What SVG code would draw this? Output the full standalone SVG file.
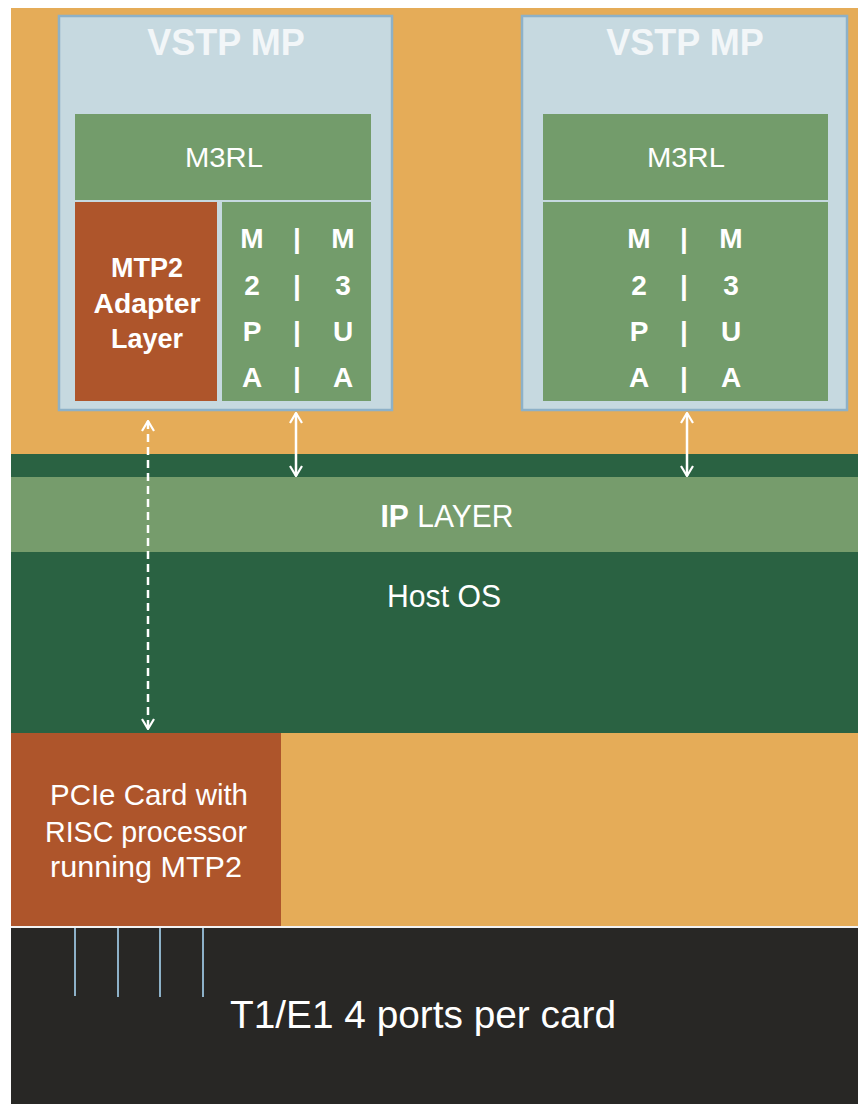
<svg xmlns="http://www.w3.org/2000/svg" width="858" height="1104" viewBox="0 0 858 1104">
<style>
text{font-family:"Liberation Sans",Arial,sans-serif;fill:#FFFFFF;text-anchor:middle}
.title{font-size:36px;font-weight:bold;fill:#F2F6F8}
.m3rl{font-size:28px}
.lbl{font-size:27px;font-weight:bold}
.ltr{font-size:28px;font-weight:bold}
.band{font-size:32px}
.pcie{font-size:29px}
.mp{fill:#C6D9E0;stroke:#8DB1C8;stroke-width:2.5}
.green{fill:#739C6B}
.rust{fill:#AE552B}
.conn{stroke:#FFFFFF;stroke-width:2.5;fill:none}
.port{stroke:#8DB1C8;stroke-width:2}
</style>
<defs>
<marker id="chev" viewBox="0 0 12 14" refX="11" refY="7" markerWidth="12" markerHeight="14" markerUnits="userSpaceOnUse" orient="auto-start-reverse">
<path d="M1,1 L11,7 L1,13" fill="none" stroke="#FFFFFF" stroke-width="2.2"/>
</marker>
</defs>
<rect x="0" y="0" width="858" height="1104" fill="#FFFFFF"/>
<rect x="11" y="8" width="847" height="1096" fill="#E5AC58"/>
<g id="ip-band">
<rect x="11" y="454" width="847" height="23" fill="#2A6242"/>
<rect x="11" y="477" width="847" height="75" fill="#769C6C"/>
<text class="band" x="447" y="527" textLength="133" lengthAdjust="spacingAndGlyphs"><tspan font-weight="bold">IP</tspan> LAYER</text>
</g>
<g id="host-os">
<rect x="11" y="552" width="847" height="181" fill="#2A6242"/>
<text class="band" x="444" y="607" textLength="114" lengthAdjust="spacingAndGlyphs">Host OS</text>
</g>
<g id="vstp-left">
<rect class="mp" x="59" y="16" width="333" height="394"/>
<text class="title" x="226" y="55">VSTP MP</text>
<g id="m3rl-left">
<rect class="green" x="75" y="114" width="296" height="86"/>
<text class="m3rl" x="224" y="167" textLength="78" lengthAdjust="spacingAndGlyphs">M3RL</text>
</g>
<g id="mtp2-adapter">
<rect class="rust" x="75" y="202" width="142" height="199"/>
<text class="lbl" x="147" y="277">MTP2</text>
<text class="lbl" x="147" y="313" textLength="107" lengthAdjust="spacingAndGlyphs">Adapter</text>
<text class="lbl" x="147" y="348">Layer</text>
</g>
<g id="m2pa-m3ua-left">
<rect class="green" x="222" y="202" width="149" height="199"/>
<text class="ltr" x="252" y="248">M</text><text class="ltr" x="297" y="248">|</text><text class="ltr" x="343" y="248">M</text>
<text class="ltr" x="252" y="295">2</text><text class="ltr" x="297" y="295">|</text><text class="ltr" x="343" y="295">3</text>
<text class="ltr" x="252" y="341">P</text><text class="ltr" x="297" y="341">|</text><text class="ltr" x="343" y="341">U</text>
<text class="ltr" x="252" y="387">A</text><text class="ltr" x="297" y="387">|</text><text class="ltr" x="343" y="387">A</text>
</g>
</g>
<g id="vstp-right">
<rect class="mp" x="522" y="16" width="325" height="394"/>
<text class="title" x="685" y="55">VSTP MP</text>
<g id="m3rl-right">
<rect class="green" x="543" y="114" width="285" height="86"/>
<text class="m3rl" x="686" y="167" textLength="78" lengthAdjust="spacingAndGlyphs">M3RL</text>
</g>
<g id="m2pa-m3ua-right">
<rect class="green" x="543" y="202" width="285" height="199"/>
<text class="ltr" x="639" y="248">M</text><text class="ltr" x="684" y="248">|</text><text class="ltr" x="731" y="248">M</text>
<text class="ltr" x="639" y="295">2</text><text class="ltr" x="684" y="295">|</text><text class="ltr" x="731" y="295">3</text>
<text class="ltr" x="639" y="341">P</text><text class="ltr" x="684" y="341">|</text><text class="ltr" x="731" y="341">U</text>
<text class="ltr" x="639" y="387">A</text><text class="ltr" x="684" y="387">|</text><text class="ltr" x="731" y="387">A</text>
</g>
</g>
<g id="pcie-card">
<rect class="rust" x="11" y="733" width="270" height="194"/>
<text class="pcie" x="149" y="805" textLength="198" lengthAdjust="spacingAndGlyphs">PCIe Card with</text>
<text class="pcie" x="146" y="842" textLength="202" lengthAdjust="spacingAndGlyphs">RISC processor</text>
<text class="pcie" x="146" y="877" textLength="192" lengthAdjust="spacingAndGlyphs">running MTP2</text>
</g>
<g id="t1e1">
<rect x="11" y="926" width="847" height="2" fill="#F2F2F2"/>
<rect x="11" y="928" width="847" height="176" fill="#282725"/>
<line class="port" x1="75" y1="928" x2="75" y2="996"/>
<line class="port" x1="118" y1="928" x2="118" y2="997"/>
<line class="port" x1="160" y1="928" x2="160" y2="997"/>
<line class="port" x1="203" y1="928" x2="203" y2="997"/>
<text x="423" y="1028" style="font-size:39px" textLength="386" lengthAdjust="spacingAndGlyphs">T1/E1 4 ports per card</text>
</g>
<g id="connectors">
<line class="conn" x1="296" y1="413" x2="296" y2="476" marker-start="url(#chev)" marker-end="url(#chev)"/>
<line class="conn" x1="687" y1="413" x2="687" y2="476" marker-start="url(#chev)" marker-end="url(#chev)"/>
<line class="conn" x1="148" y1="421" x2="148" y2="729" stroke-dasharray="8 5" marker-start="url(#chev)" marker-end="url(#chev)"/>
</g>
</svg>
